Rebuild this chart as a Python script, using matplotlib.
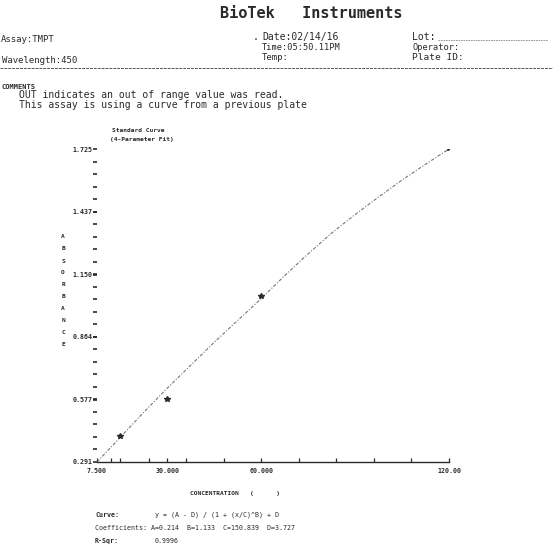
import matplotlib.pyplot as plt
import numpy as np

# values
curve_x = [7.5, 15, 22.5, 30, 37.5, 45, 52.5, 60, 67.5, 75, 82.5, 90, 97.5, 105, 112.5, 120]
curve_y = [0.291, 0.405, 0.52, 0.63, 0.735, 0.84, 0.94, 1.04, 1.145, 1.245, 1.34, 1.425, 1.505, 1.583, 1.655, 1.725]
std_x = [15, 30, 60, 120]
std_y = [0.41, 0.58, 1.05, 1.73]
y_ticks = [0.291, 0.577, 0.864, 1.150, 1.437, 1.725]
y_labels = ['0.291', '0.577', '0.864', '1.150', '1.437', '1.725']
x_ticks = [7.5, 30, 60, 120]
x_labels = ['7.500', '30.000', '60.000', '120.00']
x_minor = [12, 15, 24, 36, 48, 72, 84, 96, 108]

ink = '#2a2a2a'
W, H = 553, 546
mono = 'DejaVu Sans Mono'


def put(x, y, s, size=7, **kw):
    """place text by pixel position (top-left origin)"""
    kw.setdefault('family', mono)
    kw.setdefault('color', ink)
    fig.text(x / W, 1 - y / H, s, fontsize=size, va='center', **kw)


fig = plt.figure(figsize=(5.53, 5.46), dpi=100)
fig.patch.set_facecolor('white')

# header
put(311, 14, 'BioTek   Instruments', size=11, weight='bold', ha='center')
put(1, 40, 'Assay:TMPT', size=6.5)
put(253, 37, '.', size=7)
put(262, 37, 'Date:02/14/16', size=7)
put(262, 47, 'Time:05:50.11PM', size=6.2)
put(262, 57, 'Temp:', size=6.5)
put(412, 37, 'Lot: ', size=7)
fig.add_artist(plt.Line2D([438 / W, 548 / W], [1 - 40 / H] * 2, color='#888', lw=0.6, ls=(0, (2, 1))))
put(412, 47, 'Operator:', size=6.2)
put(412, 57, 'Plate ID:', size=6.8)
put(2, 60, 'Wavelength:450', size=6.5)
fig.add_artist(plt.Line2D([0, 1], [1 - 68 / H] * 2, color='#555', lw=0.7, ls=(0, (3, 1))))

put(2, 87, 'COMMENTS', size=5, weight='bold')
put(19, 95, 'OUT indicates an out of range value was read.', size=7)
put(19, 105, 'This assay is using a curve from a previous plate', size=7)

put(112, 130, 'Standard Curve', size=4.5, weight='bold')
put(110, 139, '(4-Parameter Fit)', size=4.5, weight='bold')

# plot area
ax = fig.add_axes([97 / W, 1 - 462 / H, (449 - 97) / W, (462 - 149) / H])
ax.plot(curve_x, curve_y, color='#777', lw=0.8, ls=(0, (3, 1.5, 1, 1.5)))
ax.plot(std_x, std_y, ls='none', marker='*', ms=4, color=ink)
ax.set_xlim(7.5, 120)
ax.set_ylim(0.291, 1.725)
for s in ['top', 'right', 'left']:
    ax.spines[s].set_visible(False)
ax.spines['bottom'].set_color(ink)
ax.spines['bottom'].set_linewidth(1.0)

ax.set_yticks(y_ticks)
ax.set_yticklabels(y_labels, family=mono, fontsize=4.8, color=ink, weight='bold')
ax.set_yticks(np.linspace(0.291, 1.725, 26), minor=True)
ax.tick_params(axis='y', which='both', length=3, width=1.2, color=ink, pad=0)
ax.set_xticks(x_ticks)
ax.set_xticklabels(x_labels, family=mono, fontsize=4.8, color=ink, weight='bold')
ax.set_xticks(x_minor, minor=True)
ax.tick_params(axis='x', which='both', direction='in', length=3, width=0.9, color=ink, pad=4)
ax.patch.set_alpha(0)

put(190, 493, 'CONCENTRATION   (      )', size=4.5, weight='bold')
for i, ch in enumerate('ABSORBANCE'):
    put(63, 237 + i * 12, ch, size=4.5, weight='bold', ha='center')

# fit summary
put(95, 515, 'Curve:', size=4.8, weight='bold')
put(155, 515, 'y = (A - D) / (1 + (x/C)^B) + D', size=4.8)
put(95, 528, 'Coefficients: A=0.214  B=1.133  C=150.839  D=3.727', size=4.8)
put(95, 541, 'R-Sqr:', size=4.8, weight='bold')
put(155, 541, '0.9996', size=4.8)

fig.savefig('out.png', dpi=100, facecolor='white')
